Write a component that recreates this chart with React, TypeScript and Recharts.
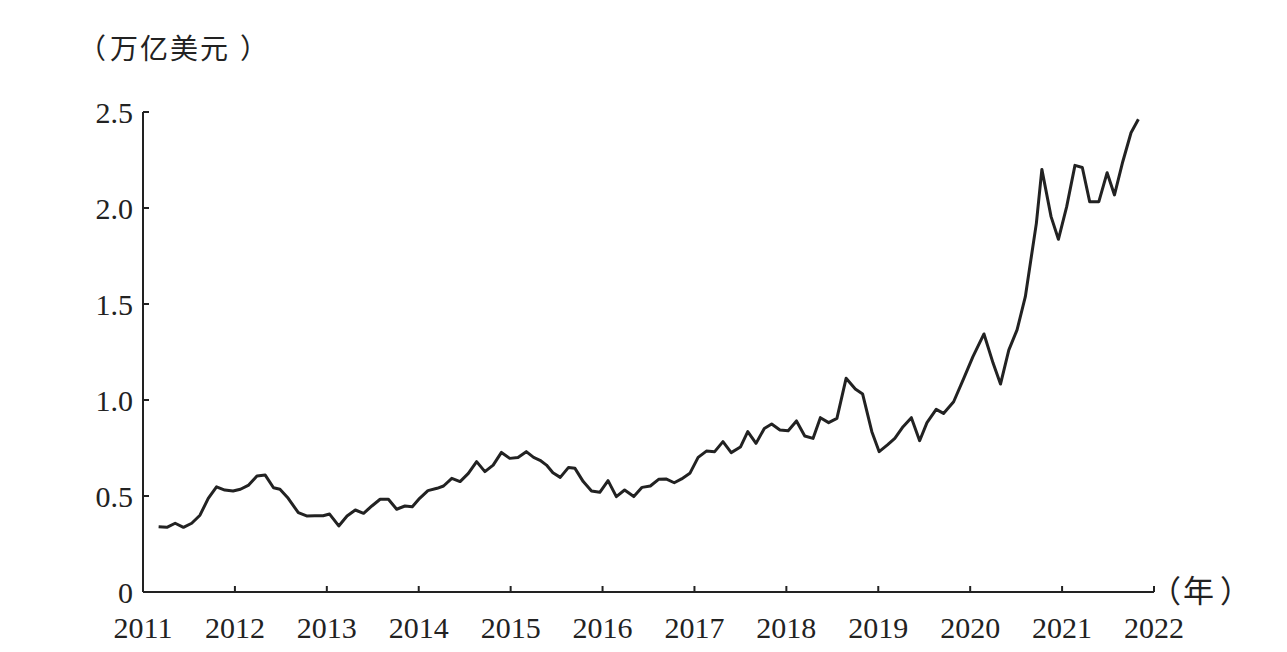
import React from "react";
import { LineChart, Line, XAxis, YAxis } from "recharts";

// time position (decimal year) of each vertex
const years = [
  2011.17, 2011.26, 2011.35, 2011.44, 2011.53, 2011.62, 2011.71, 2011.8, 2011.89, 2011.98,
  2012.06, 2012.15, 2012.24, 2012.33, 2012.42, 2012.49, 2012.58, 2012.69, 2012.78, 2012.87,
  2012.96, 2013.03, 2013.13, 2013.22, 2013.31, 2013.4, 2013.49, 2013.58, 2013.67, 2013.76,
  2013.85, 2013.93, 2014.01, 2014.1, 2014.2, 2014.27, 2014.36, 2014.45, 2014.54, 2014.63,
  2014.72, 2014.81, 2014.9, 2014.99, 2015.08, 2015.17, 2015.25, 2015.32, 2015.39, 2015.46,
  2015.54, 2015.63, 2015.7, 2015.79, 2015.88, 2015.97, 2016.06, 2016.15, 2016.24, 2016.34,
  2016.43, 2016.52, 2016.61, 2016.69, 2016.78, 2016.86, 2016.95, 2017.04, 2017.13, 2017.22,
  2017.31, 2017.4, 2017.5, 2017.58, 2017.67, 2017.76, 2017.84, 2017.93, 2018.02, 2018.11,
  2018.2, 2018.29, 2018.37, 2018.46, 2018.55, 2018.65, 2018.75, 2018.83, 2018.93, 2019.01,
  2019.1, 2019.18, 2019.27, 2019.36, 2019.45, 2019.53, 2019.63, 2019.71, 2019.82, 2019.93,
  2020.03, 2020.15, 2020.25, 2020.33, 2020.42, 2020.51, 2020.6, 2020.66, 2020.72, 2020.78,
  2020.88, 2020.96, 2021.05, 2021.14, 2021.22, 2021.3, 2021.4, 2021.49, 2021.57, 2021.66,
  2021.75, 2021.83,
];

// 万亿美元
const values = [
  0.34, 0.337, 0.358, 0.337, 0.358, 0.4, 0.488, 0.548, 0.531, 0.526,
  0.535, 0.557, 0.604, 0.609, 0.543, 0.535, 0.488, 0.413, 0.396, 0.397,
  0.397, 0.406, 0.344, 0.396, 0.427, 0.41, 0.448, 0.483, 0.483, 0.431,
  0.448, 0.444, 0.488, 0.528, 0.54, 0.552, 0.592, 0.575, 0.618, 0.679,
  0.627, 0.661, 0.727, 0.696, 0.701, 0.731, 0.701, 0.686, 0.661, 0.621,
  0.597, 0.649, 0.644, 0.575, 0.526, 0.519, 0.58, 0.497, 0.531, 0.497,
  0.545, 0.552, 0.587, 0.589, 0.569, 0.589, 0.618, 0.701, 0.734, 0.731,
  0.783, 0.726, 0.755, 0.835, 0.774, 0.852, 0.875, 0.844, 0.84, 0.891,
  0.8125, 0.8, 0.908, 0.882, 0.904, 1.113, 1.057, 1.031, 0.835, 0.731,
  0.766, 0.8, 0.861, 0.908, 0.788, 0.882, 0.951, 0.93, 0.991, 1.113,
  1.226, 1.344, 1.191, 1.083, 1.26, 1.365, 1.538, 1.729, 1.92, 2.201,
  1.955, 1.837, 2.007, 2.222, 2.211, 2.033, 2.033, 2.184, 2.068, 2.241,
  2.392, 2.462,
];

const xTicks = [2011, 2012, 2013, 2014, 2015, 2016, 2017, 2018, 2019, 2020, 2021, 2022];
const yTicks = [0, 0.5, 1, 1.5, 2, 2.5];
const yTickLabels = ["0", "0.5", "1.0", "1.5", "2.0", "2.5"];

const data = years.map((t, i) => ({ t, v: values[i] }));

const ink = "#222";
const serif = '"Liberation Serif", "Times New Roman", serif';
const cjk = '"Noto Sans CJK SC", "Noto Sans", sans-serif';

export default function App() {
  return (
    <div style={{ position: "absolute", left: 0, top: 0, width: 1287, height: 652, background: "#fff" }}>
      <LineChart width={1287} height={652} data={data} margin={{ top: 112, right: 133, left: 83, bottom: 0 }}>
        <XAxis
          dataKey="t"
          type="number"
          domain={[2011, 2022]}
          ticks={xTicks}
          interval={0}
          allowDataOverflow
          height={60}
          tickSize={-6}
          tickMargin={31}
          axisLine={{ stroke: ink, strokeWidth: 2 }}
          tickLine={{ stroke: ink, strokeWidth: 2 }}
          tick={{ fill: ink, fontSize: 30, fontFamily: serif }}
        />
        <YAxis
          type="number"
          domain={[0, 2.5]}
          ticks={yTicks}
          interval={0}
          width={60}
          tickSize={-6}
          tickMargin={16}
          tickFormatter={(v: number) => yTickLabels[yTicks.indexOf(v)] ?? String(v)}
          axisLine={{ stroke: ink, strokeWidth: 2 }}
          tickLine={{ stroke: ink, strokeWidth: 2 }}
          tick={{ fill: ink, fontSize: 30, fontFamily: serif }}
        />
        <Line
          type="linear"
          dataKey="v"
          stroke="#222"
          strokeWidth={3}
          strokeLinejoin="round"
          dot={false}
          activeDot={false}
          isAnimationActive={false}
        />
      </LineChart>
      {/* unit label, spaced out like the original */}
      <div style={{ position: "absolute", left: 78, top: 27, display: "flex", fontFamily: cjk, fontSize: 28, color: ink, whiteSpace: "nowrap" }}>
        <span>（</span>
        <span style={{ marginLeft: 4, letterSpacing: 2 }}>万亿美元</span>
        <span style={{ marginLeft: 10 }}>）</span>
      </div>
      <div style={{ position: "absolute", left: 1150, top: 566, display: "flex", fontFamily: cjk, fontSize: 31, color: ink, whiteSpace: "nowrap" }}>
        <span>（</span>
        <span style={{ marginLeft: 2 }}>年</span>
        <span style={{ marginLeft: 6 }}>）</span>
      </div>
    </div>
  );
}
